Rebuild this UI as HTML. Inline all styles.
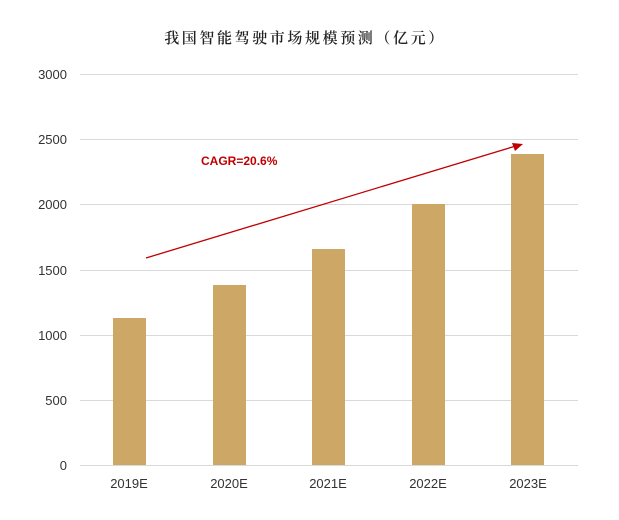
<!DOCTYPE html>
<html><head><meta charset="utf-8"><style>
body{margin:0;background:#fff;width:619px;height:515px;overflow:hidden}
</style></head><body>
<svg width="619" height="515" xmlns="http://www.w3.org/2000/svg">
<text x="305" y="43" text-anchor="middle" font-family="'Noto Serif CJK SC','Liberation Serif',serif" font-size="15" font-weight="600" letter-spacing="2.6" fill="#222">我国智能驾驶市场规模预测（亿元）</text>
<g stroke="#d9d9d9" stroke-width="1">
<line x1="80" x2="578" y1="74.5" y2="74.5"/>
<line x1="80" x2="578" y1="139.5" y2="139.5"/>
<line x1="80" x2="578" y1="204.5" y2="204.5"/>
<line x1="80" x2="578" y1="270.5" y2="270.5"/>
<line x1="80" x2="578" y1="335.5" y2="335.5"/>
<line x1="80" x2="578" y1="400.5" y2="400.5"/>
<line x1="80" x2="578" y1="465.5" y2="465.5"/>
</g>
<g font-family="'Liberation Sans',sans-serif" font-size="13" fill="#333" text-anchor="end">
<text x="67" y="79">3000</text><text x="67" y="144">2500</text><text x="67" y="209">2000</text>
<text x="67" y="275">1500</text><text x="67" y="340">1000</text><text x="67" y="405">500</text><text x="67" y="470">0</text>
</g>
<g fill="#CDA765">
<rect x="113" y="318" width="33" height="147"/>
<rect x="213" y="285" width="33" height="180"/>
<rect x="312" y="249" width="33" height="216"/>
<rect x="412" y="204" width="33" height="261"/>
<rect x="511" y="154" width="33" height="311"/>
</g>
<g font-family="'Liberation Sans',sans-serif" font-size="13" fill="#333" text-anchor="middle">
<text x="129" y="488">2019E</text><text x="229" y="488">2020E</text><text x="328" y="488">2021E</text><text x="428" y="488">2022E</text><text x="528" y="488">2023E</text>
</g>
<line x1="146" y1="258" x2="514" y2="146.5" stroke="#C00000" stroke-width="1.3"/>
<polygon points="523,144 512,143 515,151" fill="#C00000"/>
<text x="201" y="165" font-family="'Liberation Sans',sans-serif" font-size="12" font-weight="bold" fill="#C00000">CAGR=20.6%</text>
</svg>
</body></html>
